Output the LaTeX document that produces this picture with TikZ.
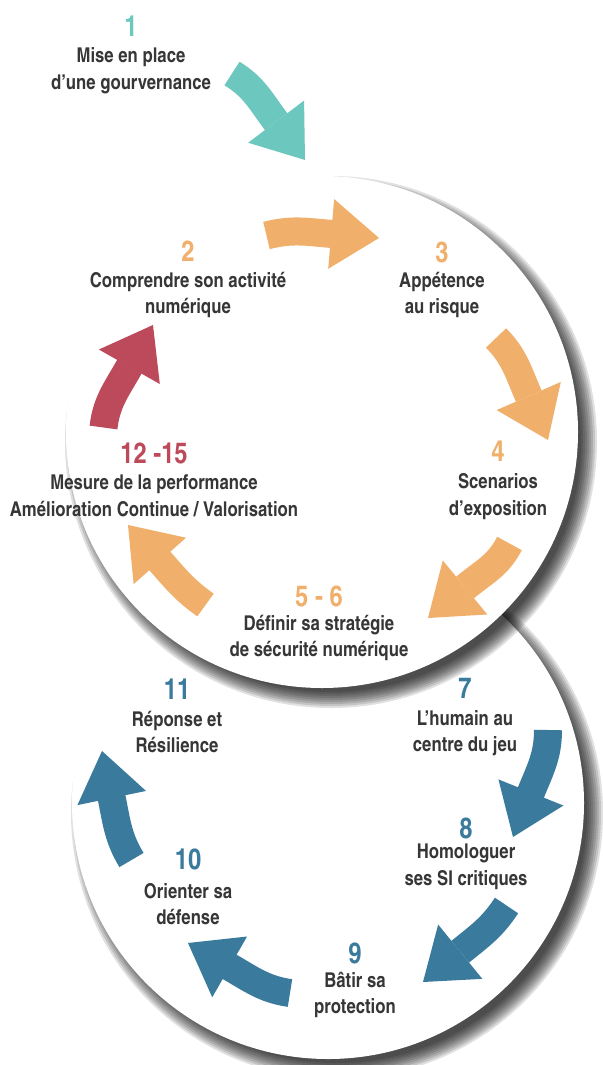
\documentclass[tikz,border=0pt]{standalone}
\usepackage{fontspec}
\setmainfont{texgyreheroscn}[Extension=.otf, UprightFont=*-regular, BoldFont=*-bold]
\usetikzlibrary{arrows.meta}
\definecolor{vert}{HTML}{6CC8BE}
\definecolor{orng}{HTML}{F0AF6B}
\definecolor{rouge}{HTML}{BC4A5A}
\definecolor{bleu}{HTML}{3A7A9C}
\definecolor{txt}{HTML}{363636}

\begin{document}
\begin{tikzpicture}[x=0.5pt,y=-0.5pt,
  lbl/.style={text=txt, align=center, inner sep=0pt, font=\fontsize{10.2}{13.25}\selectfont\bfseries},
  num/.style={text=#1, inner sep=0pt, font=\fontsize{14.5}{16}\selectfont\bfseries},
  blk/.style={draw=#1, line width=14pt, -{Triangle[width=35pt,length=24pt,line width=0pt]}}]

  \useasboundingbox (0,0) rectangle (602,1065);
  \fill[white] (0,0) rectangle (602,1065);

  % the two discs, with a soft shadow to the lower right
  \foreach \cx/\cy in {328/803, 322/432} {
    \foreach \d in {0,2,...,16}
      \fill[black, opacity=0.12] (\cx+9,\cy+10) circle (250+\d);
    \fill[white] (\cx,\cy) circle (256);
  }

  % arrow ends
  \coordinate (a1t) at (232,73.5);  \coordinate (a1h) at (305,160);
  \coordinate (a2t) at (266.5,235.5); \coordinate (a2h) at (379,238);
  \coordinate (a3t) at (496,338);   \coordinate (a3h) at (548,440);
  \coordinate (a4t) at (509.5,543.5); \coordinate (a4h) at (428,618);
  \coordinate (a5t) at (205.5,605); \coordinate (a5h) at (128,525);
  \coordinate (a6t) at (103.5,427.5); \coordinate (a6h) at (153,325);
  \coordinate (a7t) at (548,730);   \coordinate (a7h) at (513,837);
  \coordinate (a8t) at (506.5,905.5); \coordinate (a8h) at (423,982);
  \coordinate (a9t) at (290,993);   \coordinate (a9h) at (188,943);
  \coordinate (a10t) at (131.5,860); \coordinate (a10h) at (102,751);

  \draw[blk=vert]  (a1t) .. controls (254,87) and (260.4,100.7) .. (276,121.5) -- (a1h);
  \draw[blk=orng]  (a2t) .. controls (291.7,229) and (306.1,231.8) .. (332,234) -- (a2h);
  \draw[blk=orng]  (a3t) .. controls (514.4,356.4) and (518.1,371.7) .. (528.5,395.5) -- (a3h);
  \draw[blk=orng]  (a4t) .. controls (498,565.7) and (484.3,571.5) .. (465,587.5) -- (a4h);
  \draw[blk=orng]  (a5t) .. controls (184.3,590) and (176.2,579.5) .. (159,560) -- (a5h);
  \draw[blk=rouge] (a6t) .. controls (106.4,401.7) and (116.8,389.1) .. (129.5,366.5) -- (a6h);
  \draw[blk=bleu]  (a7t) .. controls (548,756) and (540.2,769.4) .. (530.5,793.5) -- (a7h);
  \draw[blk=bleu]  (a8t) .. controls (492.3,927.2) and (480.7,935.1) .. (460.5,951.5) -- (a8h);
  \draw[blk=bleu]  (a9t) .. controls (264.3,989.4) and (251.5,979.4) .. (229,966.5) -- (a9h);
  \draw[blk=bleu]  (a10t) .. controls (118,837.8) and (116.7,822.5) .. (111.5,797) -- (a10h);

  % steps
  \node[num=vert] (n1) at (131,26) {1};
  \node[lbl] (l1) at (131,70.5) {Mise en place\\d’une gourvernance};
  \node[num=orng] (n2) at (188,251) {2};
  \node[lbl] (l2) at (188,295) {Comprendre son activité\\numérique};
  \node[num=orng] (n3) at (442,252) {3};
  \node[lbl] (l3) at (442,295) {Appétence\\au risque};
  \node[num=orng] (n4) at (498,451) {4};
  \node[lbl] (l4) at (498,496.5) {Scenarios\\d’exposition};
  \node[num=orng] (n56) at (319,596) {5 - 6};
  \node[lbl] (l56) at (319,638) {Définir sa stratégie\\de sécurité numérique};
  \node[num=bleu] (n7) at (465,688) {7};
  \node[lbl] (l7) at (465,733) {L’humain au\\centre du jeu};
  \node[num=bleu] (n8) at (466,828) {8};
  \node[lbl] (l8) at (466,867) {Homologuer\\ses SI critiques};
  \node[num=bleu] (n9) at (355,953) {9};
  \node[lbl] (l9) at (355,995) {Bâtir sa\\protection};
  \node[num=bleu] (n10) at (188,859) {10};
  \node[lbl] (l10) at (188,904) {Orienter sa\\défense};
  \node[num=bleu] (n11) at (177,689) {11};
  \node[lbl] (l11) at (177,732) {Réponse et\\Résilience};
  \node[num=rouge] (n12) at (154,453) {12 -15};
  \node[lbl] (l12) at (154,496) {Mesure de la performance\\Amélioration Continue / Valorisation};
\end{tikzpicture}
\end{document}
